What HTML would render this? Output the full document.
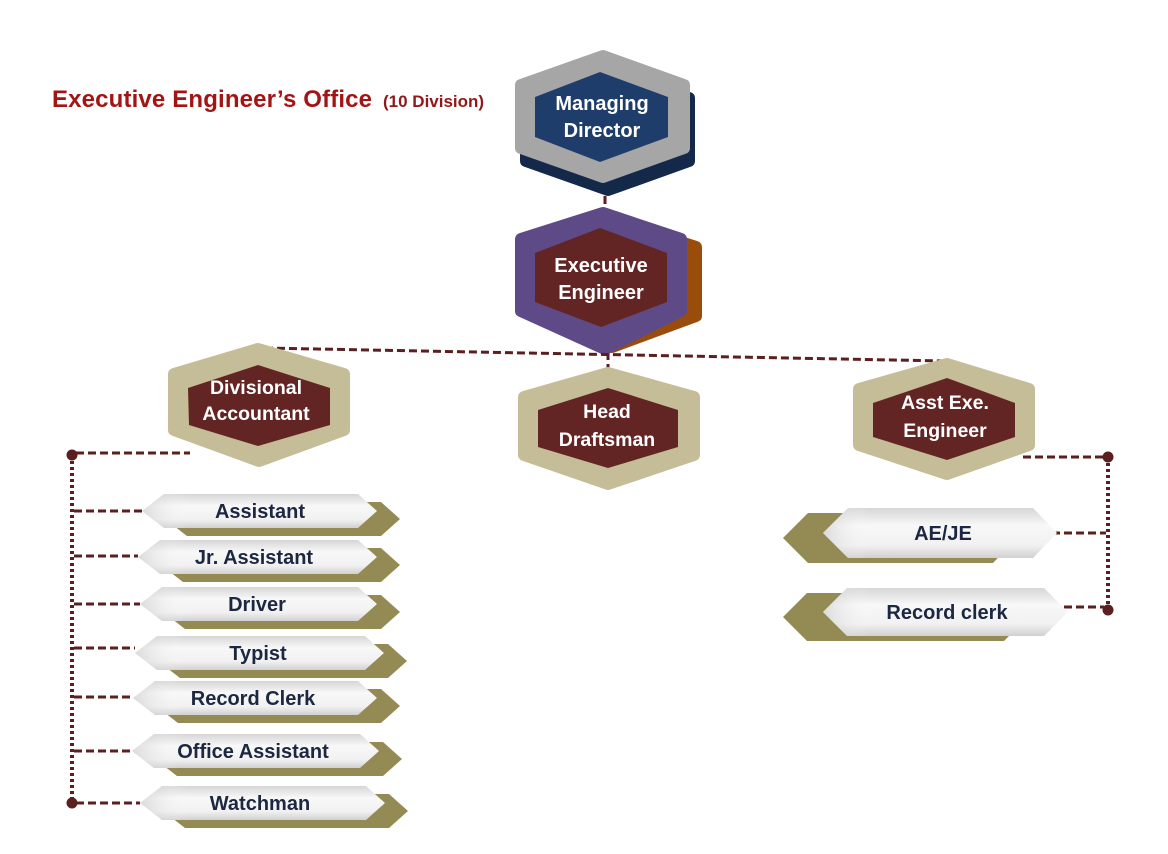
<!DOCTYPE html>
<html><head><meta charset="utf-8">
<style>
html,body{margin:0;padding:0;background:#fff;}
svg{display:block;}
text{font-family:"Liberation Sans",Arial,sans-serif;font-weight:bold;}
</style></head>
<body>
<svg width="1168" height="854" viewBox="0 0 1168 854" xmlns="http://www.w3.org/2000/svg">
<defs>
<linearGradient id="wg" x1="0" y1="0" x2="0" y2="1">
<stop offset="0" stop-color="#d6d6d6"/>
<stop offset="0.35" stop-color="#f8f8f8"/>
<stop offset="0.75" stop-color="#f1f1f1"/>
<stop offset="1" stop-color="#d0d0d0"/>
</linearGradient>
<linearGradient id="wh" x1="0" y1="0" x2="1" y2="0">
<stop offset="0" stop-color="#c8c8c8" stop-opacity="0.6"/>
<stop offset="0.2" stop-color="#ffffff" stop-opacity="0"/>
<stop offset="1" stop-color="#ffffff" stop-opacity="0"/>
</linearGradient>
</defs>

<!-- Title -->
<text x="52" y="107" font-size="24" fill="#a31515" letter-spacing="0.15">Executive Engineer’s Office</text>
<text x="383" y="107" font-size="17" fill="#8e1a1a">(10 Division)</text>

<!-- connectors top -->
<g stroke="#5c1f1f" stroke-width="3" fill="none" stroke-dasharray="8 4">
<line x1="605" y1="184" x2="605" y2="214"/>
<line x1="608" y1="352" x2="608" y2="370"/>
</g>

<!-- Managing Director -->
<polygon points="608,69 689,98 689,161 608,190 526,161 526,98" fill="#14284a" stroke="#14284a" stroke-width="12" stroke-linejoin="round"/>
<polygon points="603,56 684,85 684,148 603,177 521,148 521,85" fill="#a6a6a6" stroke="#a6a6a6" stroke-width="12" stroke-linejoin="round"/>
<polygon points="600,72 668,97 668,137 600,162 535,137 535,97" fill="#1f3d6b"/>
<text x="602" y="110" font-size="20" fill="#fff" text-anchor="middle">Managing</text>
<text x="602" y="137" font-size="20" fill="#fff" text-anchor="middle">Director</text>

<!-- Executive Engineer -->
<polygon points="615,221 696,247 696,316 612,347 536,316 536,247" fill="#9a4d0a" stroke="#9a4d0a" stroke-width="12" stroke-linejoin="round"/>
<polygon points="603,213 681,239 681,311 605,349 521,311 521,239" fill="#5e4a87" stroke="#5e4a87" stroke-width="12" stroke-linejoin="round"/>
<polygon points="600,228 667,253 667,302 601,327 535,302 535,253" fill="#632523"/>
<text x="601" y="272" font-size="20" fill="#fff" text-anchor="middle">Executive</text>
<text x="601" y="299" font-size="20" fill="#fff" text-anchor="middle">Engineer</text>

<line x1="265" y1="348" x2="945" y2="361" stroke="#5c1f1f" stroke-width="3" stroke-dasharray="8 4"/>

<!-- Divisional Accountant -->
<polygon points="258,349 344,374 344,430 259,461 174,430 174,374" fill="#c4bd97" stroke="#c4bd97" stroke-width="12" stroke-linejoin="round"/>
<polygon points="258,365 330,388 330,425 258,446 189,425 188,388" fill="#632523"/>
<text x="256" y="394" font-size="19.5" fill="#fff" text-anchor="middle">Divisional</text>
<text x="256" y="420" font-size="19.5" fill="#fff" text-anchor="middle">Accountant</text>

<!-- Head Draftsman -->
<polygon points="608,373 694,397 694,455 608,484 524,455 524,397" fill="#c4bd97" stroke="#c4bd97" stroke-width="12" stroke-linejoin="round"/>
<polygon points="608,388 678,410 678,447 608,468 538,447 538,410" fill="#632523"/>
<text x="607" y="418" font-size="19.5" fill="#fff" text-anchor="middle">Head</text>
<text x="607" y="446" font-size="19.5" fill="#fff" text-anchor="middle">Draftsman</text>

<!-- Asst Exe Engineer -->
<polygon points="947,364 1029,389 1029,445 947,474 859,445 859,389" fill="#c4bd97" stroke="#c4bd97" stroke-width="12" stroke-linejoin="round"/>
<polygon points="947,378 1015,403 1015,437 947,460 873,437 873,403" fill="#632523"/>
<text x="945" y="409" font-size="19.5" fill="#fff" text-anchor="middle">Asst Exe.</text>
<text x="945" y="437" font-size="19.5" fill="#fff" text-anchor="middle">Engineer</text>

<!-- Left connectors -->
<g stroke="#5c1f1f" stroke-width="3" fill="none" stroke-dasharray="8 4">
<line x1="76" y1="453" x2="190" y2="453"/>
<line x1="74" y1="511" x2="142" y2="511"/>
<line x1="74" y1="556" x2="138" y2="556"/>
<line x1="74" y1="604" x2="140" y2="604"/>
<line x1="74" y1="648" x2="135" y2="648"/>
<line x1="74" y1="697" x2="133" y2="697"/>
<line x1="74" y1="751" x2="132" y2="751"/>
<line x1="76" y1="803" x2="140" y2="803"/>
</g>
<line x1="72" y1="455" x2="72" y2="803" stroke="#5c1f1f" stroke-width="4" stroke-dasharray="3 3"/>
<circle cx="72" cy="455" r="5.5" fill="#5c1f1f"/>
<circle cx="72" cy="803" r="5.5" fill="#5c1f1f"/>

<!-- Left items -->
<polygon points="165,519 187,502 381,502 400,519 381,536 187,536" fill="#948a54"/>
<polygon points="142,511 164,494 358,494 377,511 358,528 164,528" fill="url(#wg)"/>
<polygon points="142,511 164,494 358,494 377,511 358,528 164,528" fill="url(#wh)"/>
<text x="260" y="518" font-size="20" fill="#1c2841" text-anchor="middle">Assistant</text>

<polygon points="161,565 183,548 381,548 400,565 381,582 183,582" fill="#948a54"/>
<polygon points="138,557 160,540 358,540 377,557 358,574 160,574" fill="url(#wg)"/>
<polygon points="138,557 160,540 358,540 377,557 358,574 160,574" fill="url(#wh)"/>
<text x="254" y="564" font-size="20" fill="#1c2841" text-anchor="middle">Jr. Assistant</text>

<polygon points="163,612 185,595 381,595 400,612 381,629 185,629" fill="#948a54"/>
<polygon points="140,604 162,587 358,587 377,604 358,621 162,621" fill="url(#wg)"/>
<polygon points="140,604 162,587 358,587 377,604 358,621 162,621" fill="url(#wh)"/>
<text x="257" y="611" font-size="20" fill="#1c2841" text-anchor="middle">Driver</text>

<polygon points="158,661 180,644 388,644 407,661 388,678 180,678" fill="#948a54"/>
<polygon points="135,653 157,636 365,636 384,653 365,670 157,670" fill="url(#wg)"/>
<polygon points="135,653 157,636 365,636 384,653 365,670 157,670" fill="url(#wh)"/>
<text x="258" y="660" font-size="20" fill="#1c2841" text-anchor="middle">Typist</text>

<polygon points="156,706 178,689 381,689 400,706 381,723 178,723" fill="#948a54"/>
<polygon points="133,698 155,681 358,681 377,698 358,715 155,715" fill="url(#wg)"/>
<polygon points="133,698 155,681 358,681 377,698 358,715 155,715" fill="url(#wh)"/>
<text x="253" y="705" font-size="20" fill="#1c2841" text-anchor="middle">Record Clerk</text>

<polygon points="155,759 177,742 383,742 402,759 383,776 177,776" fill="#948a54"/>
<polygon points="132,751 154,734 360,734 379,751 360,768 154,768" fill="url(#wg)"/>
<polygon points="132,751 154,734 360,734 379,751 360,768 154,768" fill="url(#wh)"/>
<text x="253" y="758" font-size="20" fill="#1c2841" text-anchor="middle">Office Assistant</text>

<polygon points="163,811 185,794 389,794 408,811 389,828 185,828" fill="#948a54"/>
<polygon points="140,803 162,786 366,786 385,803 366,820 162,820" fill="url(#wg)"/>
<polygon points="140,803 162,786 366,786 385,803 366,820 162,820" fill="url(#wh)"/>
<text x="260" y="810" font-size="20" fill="#1c2841" text-anchor="middle">Watchman</text>

<!-- Right connectors -->
<g stroke="#5c1f1f" stroke-width="3" fill="none" stroke-dasharray="8 4">
<line x1="1023" y1="457" x2="1104" y2="457"/>
<line x1="1052" y1="533" x2="1106" y2="533"/>
<line x1="1040" y1="607" x2="1104" y2="607"/>
</g>
<line x1="1108" y1="457" x2="1108" y2="610" stroke="#5c1f1f" stroke-width="4" stroke-dasharray="3 3"/>
<circle cx="1108" cy="457" r="5.5" fill="#5c1f1f"/>
<circle cx="1108" cy="610" r="5.5" fill="#5c1f1f"/>

<!-- AE/JE -->
<polygon points="783,538 808,513 993,513 1017,538 993,563 808,563" fill="#948a54"/>
<polygon points="823,533 848,508 1033,508 1057,533 1033,558 848,558" fill="url(#wg)"/>
<polygon points="823,533 848,508 1033,508 1057,533 1033,558 848,558" fill="url(#wh)"/>
<text x="943" y="540" font-size="20" fill="#1c2841" text-anchor="middle">AE/JE</text>

<!-- Record clerk right -->
<polygon points="783,617 807,593 1004,593 1028,617 1004,641 807,641" fill="#948a54"/>
<polygon points="823,612 847,588 1044,588 1068,612 1044,636 847,636" fill="url(#wg)"/>
<polygon points="823,612 847,588 1044,588 1068,612 1044,636 847,636" fill="url(#wh)"/>
<text x="947" y="619" font-size="20" fill="#1c2841" text-anchor="middle">Record clerk</text>
</svg>
</body></html>
